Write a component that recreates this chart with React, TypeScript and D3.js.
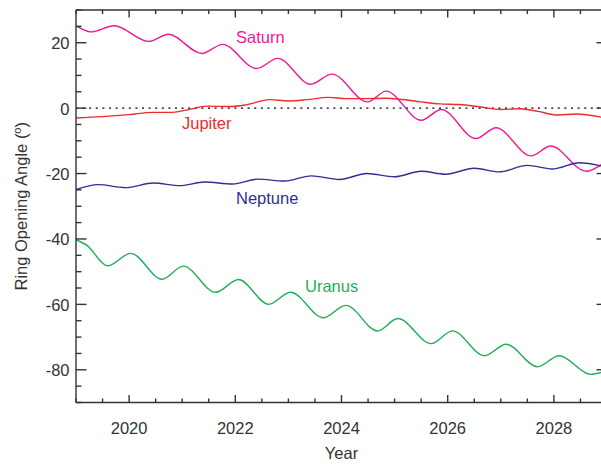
import React from "react";
import * as d3 from "d3";

const saturn: [number, number][] = [
  [2019.0, 25.2], [2019.28, 23.3], [2019.72, 25.2], [2020.37, 20.4], [2020.74, 22.6],
  [2021.37, 16.7], [2021.76, 19.5], [2022.4, 12.1], [2022.8, 15.2], [2023.42, 7.3],
  [2023.82, 10.4], [2024.49, 1.9], [2024.84, 5.2], [2025.5, -3.7], [2025.88, -0.4],
  [2026.53, -9.3], [2026.91, -6.0], [2027.57, -14.6], [2027.94, -11.6], [2028.61, -19.3],
  [2028.9, -17.2],
];

const jupiter: [number, number][] = [
  [2019.0, -3.0], [2019.5, -2.6], [2020.0, -2.0], [2020.45, -1.3], [2020.77, -1.3],
  [2021.08, -0.6], [2021.46, 0.6], [2021.9, 0.5], [2022.2, 1.0], [2022.65, 2.6],
  [2023.0, 2.2], [2023.35, 2.6], [2023.75, 3.3], [2024.1, 2.9], [2024.4, 2.9],
  [2024.85, 3.0], [2025.1, 2.7], [2025.5, 1.9], [2025.85, 1.3], [2026.22, 1.1],
  [2026.6, 0.4], [2027.0, -0.4], [2027.36, -0.2], [2027.7, -1.0], [2028.07, -2.1],
  [2028.42, -1.8], [2028.9, -2.8],
];

const neptune: [number, number][] = [
  [2019.0, -24.9], [2019.42, -23.4], [2019.93, -24.3], [2020.46, -22.9], [2020.96, -23.7],
  [2021.42, -22.6], [2021.95, -23.2], [2022.42, -21.7], [2022.93, -22.3], [2023.43, -20.7],
  [2023.96, -21.8], [2024.48, -20.0], [2025.0, -21.0], [2025.5, -19.3], [2025.96, -20.2],
  [2026.5, -18.4], [2026.97, -19.5], [2027.5, -17.5], [2027.97, -18.6], [2028.48, -16.7],
  [2028.9, -17.7],
];

const uranus: [number, number][] = [
  [2019.0, -40.2], [2019.2, -41.9], [2019.6, -48.2], [2020.03, -44.4], [2020.62, -52.3],
  [2021.02, -48.3], [2021.63, -56.3], [2022.06, -52.4], [2022.63, -60.0], [2023.04, -56.3],
  [2023.66, -64.1], [2024.08, -60.3], [2024.68, -68.1], [2025.06, -64.3], [2025.69, -72.0],
  [2026.09, -68.1], [2026.69, -75.7], [2027.1, -72.2], [2027.69, -79.1], [2028.1, -75.7],
  [2028.69, -81.4], [2028.9, -80.8],
];

const xMajorTicks = [2020, 2022, 2024, 2026, 2028];
const yMajorTicks = [-80, -60, -40, -20, 0, 20];

const seriesList = [
  { name: "Saturn", data: saturn, color: "#ee1a94", label: [236, 43] },
  { name: "Jupiter", data: jupiter, color: "#ee2a2e", label: [182, 129] },
  { name: "Neptune", data: neptune, color: "#2e3192", label: [236, 204] },
  { name: "Uranus", data: uranus, color: "#1fae5a", label: [305, 292] },
];

const W = 601;
const H = 464;
const L = 76, R = 607, T = 10, B = 402.5;
const FONT = "'Liberation Sans', Arial, Helvetica, sans-serif";
const AX = "#333";

export default function App() {
  const x = d3.scaleLinear().domain([2019, 2029]).range([L, R]);
  const y = d3.scaleLinear().domain([-90, 30]).range([B, T]);
  const line = d3
    .line<[number, number]>()
    .x((d) => x(d[0]))
    .y((d) => y(d[1]))
    .curve(d3.curveMonotoneX);

  const xMinor = d3.range(2019, 2029.01, 0.5).filter((v) => !xMajorTicks.includes(v));
  const yMinor = d3.range(-90, 30.01, 5).filter((v) => !yMajorTicks.includes(v));

  return (
    <svg
      width={W}
      height={H}
      style={{ position: "absolute", left: 0, top: 0, background: "#fff" }}
      fontFamily={FONT}
    >
      <defs>
        <clipPath id="plot">
          <rect x={L} y={T} width={R - L} height={B - T} />
        </clipPath>
      </defs>
      {/* zero line */}
      <line
        x1={L}
        x2={R}
        y1={y(0)}
        y2={y(0)}
        stroke="#000"
        strokeWidth={1.4}
        strokeDasharray="2 4.6"
      />
      <g clipPath="url(#plot)">
        {seriesList.map((s) => (
          <path key={s.name} d={line(s.data) || ""} fill="none" stroke={s.color} strokeWidth={1.4} />
        ))}
      </g>
      {seriesList.map((s) => (
        <text key={s.name + "l"} x={s.label[0]} y={s.label[1]} fill={s.color} fontSize={16.5}>
          {s.name}
        </text>
      ))}
      {/* frame */}
      <g stroke={AX} strokeWidth={1.4} fill="none">
        <line x1={L} x2={R} y1={B} y2={B} />
        <line x1={L} x2={R} y1={T} y2={T} />
        <line x1={L} x2={L} y1={T} y2={B} />
        <line x1={R} x2={R} y1={T} y2={B} />
        {xMajorTicks.map((v) => (
          <g key={"xm" + v}>
            <line x1={x(v)} x2={x(v)} y1={B} y2={B - 7.5} />
            <line x1={x(v)} x2={x(v)} y1={T} y2={T + 7.5} />
          </g>
        ))}
        {xMinor.map((v) => (
          <g key={"xn" + v}>
            <line x1={x(v)} x2={x(v)} y1={B} y2={B - 4} />
            <line x1={x(v)} x2={x(v)} y1={T} y2={T + 4} />
          </g>
        ))}
        {yMajorTicks.map((v) => (
          <g key={"ym" + v}>
            <line x1={L} x2={L + 10.5} y1={y(v)} y2={y(v)} />
            <line x1={R} x2={R - 10.5} y1={y(v)} y2={y(v)} />
          </g>
        ))}
        {yMinor.map((v) => (
          <g key={"yn" + v}>
            <line x1={L} x2={L + 5.5} y1={y(v)} y2={y(v)} />
            <line x1={R} x2={R - 5.5} y1={y(v)} y2={y(v)} />
          </g>
        ))}
      </g>
      {xMajorTicks.map((v) => (
        <text key={"xl" + v} x={x(v)} y={434} textAnchor="middle" fontSize={16.5} fill={AX}>
          {v}
        </text>
      ))}
      {yMajorTicks.map((v) => (
        <text key={"yl" + v} x={69.5} y={y(v) + 6.5} textAnchor="end" fontSize={16.5} fill={AX}>
          {v}
        </text>
      ))}
      <text x={(L + R) / 2} y={459} textAnchor="middle" fontSize={16.5} fill={AX}>
        Year
      </text>
      <text
        transform={`translate(27,${(T + B) / 2}) rotate(-90)`}
        textAnchor="middle"
        fontSize={16.5}
        fill={AX}
      >
        Ring Opening Angle (
        <tspan fontSize={11} dy={-6}>o</tspan>
        <tspan dy={6}>)</tspan>
      </text>
    </svg>
  );
}
